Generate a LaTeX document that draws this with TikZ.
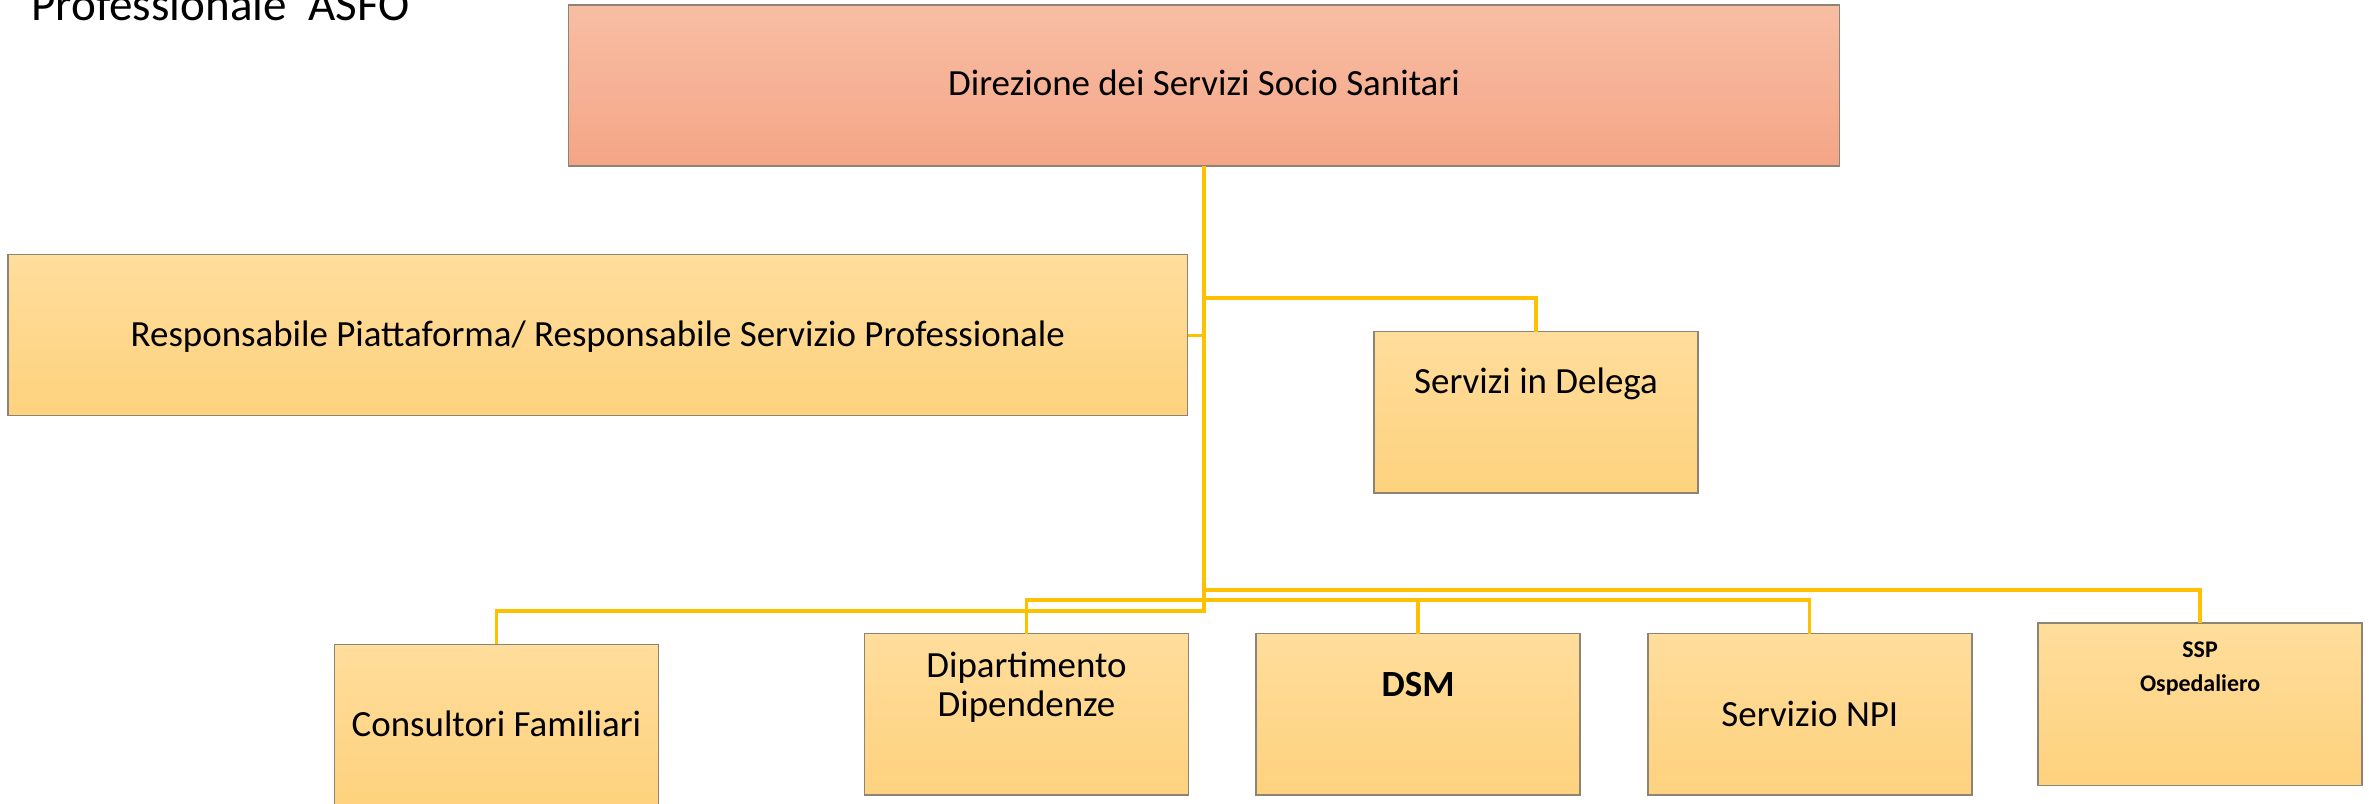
\documentclass[tikz,border=0pt]{standalone}
\usepackage{fontspec}
\setmainfont{Carlito}
\usetikzlibrary{positioning}
\usepackage{xcolor}
\definecolor{boxtop}{RGB}{255,221,156}
\definecolor{boxbot}{RGB}{254,210,126}
\definecolor{dirtop}{RGB}{247,190,164}
\definecolor{dirbot}{RGB}{245,165,134}
\definecolor{boxedge}{RGB}{140,132,116}
\definecolor{linkcol}{RGB}{255,192,0}

\begin{document}
\begin{tikzpicture}[x=0.01cm, y=-0.01cm, font=\fontsize{10.5}{12.6}\selectfont]
  \tikzstyle{box}=[draw=boxedge, line width=0.015cm, outer sep=0pt, top color=boxtop, bottom color=boxbot, minimum width=3.236cm, minimum height=1.613cm]
  \tikzstyle{lbl}=[inner sep=0pt, anchor=base, align=center]
  \tikzstyle{conn}=[draw=linkcol, line width=0.032cm]

  \useasboundingbox (0,0) rectangle (2369,804);

  \node[anchor=base west, inner sep=0pt, font=\fontsize{13.4}{16}\selectfont] (title) at (30.6,21) {Professionale\ \ ASFO};

  \node[box, top color=dirtop, bottom color=dirbot, minimum width=12.70cm, minimum height=1.61cm] (dir) at (1204,85.5) {};
  \node[box, minimum width=11.79cm, minimum height=1.61cm] (resp) at (597.8,335.2) {};
  \node[box] (deleg) at (1536,412.3) {};
  \node[box] (cons) at (496.5,725) {};
  \node[box] (dip) at (1026.5,714.3) {};
  \node[box] (dsm) [right=0.677cm of dip] {};
  \node[box] (npi) [right=0.68cm of dsm] {};
  \node[box, minimum height=1.62cm] (ssp) [right=0.664cm of npi, yshift=0.10cm] {};

  \coordinate (hubA) at (1204,298);
  \coordinate (hubB) at (1204,590);
  \coordinate (hubC) at (1204,600);
  \coordinate (hubD) at (1204,611);

  \draw[conn] (dir.south) -- (hubD) -| (cons.north);
  \draw[conn] (resp.east) -- (resp.east -| dir.south);
  \draw[conn] (hubA) -| (deleg.north);
  \draw[conn] (hubB) -| (ssp.north);
  \draw[conn] (dip.north) |- (hubC) -| (npi.north);
  \draw[conn] (dsm.north) -- (dsm.north |- hubC);

  % base of a two-line label is its last line
  \node[lbl, below=0.907cm of dir.north, anchor=base] (dirT) {Direzione dei Servizi Socio Sanitari};
  \node[lbl, below=0.92cm of resp.north, anchor=base] (respT) {Responsabile Piattaforma/ Responsabile Servizio Professionale};
  \node[lbl, below=0.623cm of deleg.north, anchor=base] (delegT) {Servizi in Delega};
  \node[lbl, below=0.922cm of cons.north, anchor=base] (consT) {Consultori Familiari};
  \node[lbl, below=0.83cm of dip.north, anchor=base, font=\fontsize{10.5}{11.2}\selectfont] (dipT) {Dipartimento\\Dipendenze};
  \node[lbl, below=0.63cm of dsm.north, anchor=base, font=\fontsize{10.5}{12.6}\selectfont\bfseries] (dsmT) {DSM};
  \node[lbl, below=0.93cm of npi.north, anchor=base] (npiT) {Servizio NPI};
  \node[lbl, below=0.687cm of ssp.north, anchor=base, font=\fontsize{6.8}{9.9}\selectfont\bfseries] (sspT) {SSP\\Ospedaliero};
\end{tikzpicture}
\end{document}
